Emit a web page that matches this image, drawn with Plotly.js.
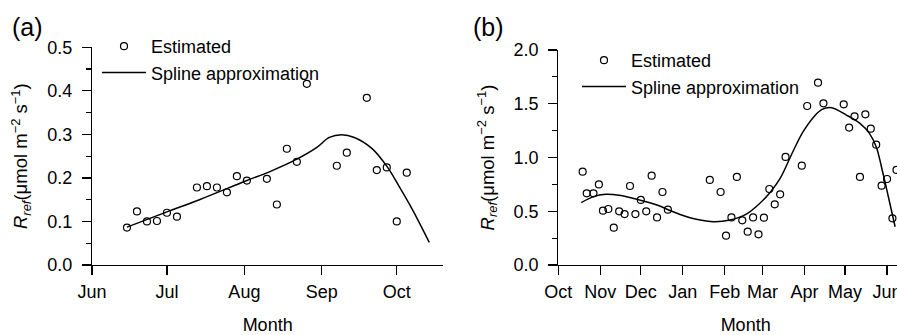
<!DOCTYPE html>
<html>
<head>
<meta charset="utf-8">
<script src="https://cdn.plot.ly/plotly-3.0.1.min.js"></script>
<style>
html, body { margin: 0; padding: 0; overflow: hidden; background: #fff; }
#chart { width: 935px; height: 335px; }
</style>
</head>
<body>
<div id="chart"></div>
<script>
// ---------- Panel (a): Jun–Oct ----------
const aDates = ['2004-06-15','2004-06-19','2004-06-23','2004-06-27','2004-07-01','2004-07-05',
  '2004-07-13','2004-07-17','2004-07-21','2004-07-25','2004-07-29','2004-08-02',
  '2004-08-10','2004-08-14','2004-08-18','2004-08-22','2004-08-26','2004-09-07',
  '2004-09-11','2004-09-19','2004-09-23','2004-09-27','2004-10-01','2004-10-05'];
const aValues = [0.086,0.123,0.100,0.101,0.120,0.111,
  0.178,0.181,0.178,0.167,0.204,0.194,
  0.198,0.139,0.267,0.237,0.416,0.228,
  0.258,0.384,0.218,0.224,0.100,0.212];
const aSplineDates = ['2004-06-15','2004-07-01','2004-07-14','2004-08-02','2004-08-11','2004-08-22',
  '2004-08-30','2004-09-04','2004-09-09','2004-09-14','2004-09-21','2004-09-27',
  '2004-10-02','2004-10-07','2004-10-14'];
const aSplineValues = [0.087,0.122,0.150,0.194,0.214,0.243,
  0.270,0.293,0.299,0.293,0.268,0.227,
  0.180,0.130,0.052];

// ---------- Panel (b): Oct–Jun ----------
const bDates = ['2004-10-19','2004-10-22','2004-10-27','2004-10-31','2004-11-03','2004-11-07',
  '2004-11-11','2004-11-15','2004-11-19','2004-11-23','2004-11-27','2004-12-01',
  '2004-12-05','2004-12-09','2004-12-13','2004-12-17','2004-12-21','2005-01-21',
  '2005-01-29','2005-02-02','2005-02-06','2005-02-10','2005-02-14','2005-02-18',
  '2005-02-22','2005-02-26','2005-03-02','2005-03-06','2005-03-10','2005-03-14',
  '2005-03-18','2005-03-30','2005-04-03','2005-04-11','2005-04-15','2005-04-30',
  '2005-05-04','2005-05-08','2005-05-12','2005-05-16','2005-05-20','2005-05-24',
  '2005-05-28','2005-06-01','2005-06-05','2005-06-08'];
const bValues = [0.868,0.667,0.667,0.750,0.505,0.521,
  0.347,0.499,0.474,0.735,0.474,0.605,
  0.499,0.831,0.443,0.679,0.515,0.791,
  0.679,0.273,0.443,0.819,0.416,0.310,
  0.443,0.285,0.440,0.707,0.564,0.657,
  1.005,0.924,1.479,1.696,1.504,1.495,
  1.278,1.383,0.819,1.402,1.268,1.119,
  0.738,0.800,0.434,0.884];
const bSplineDates = ['2004-10-18','2004-10-27','2004-11-05','2004-11-15','2004-11-30','2004-12-13',
  '2004-12-23','2005-01-04','2005-01-11','2005-01-24','2005-02-05','2005-02-17',
  '2005-02-27','2005-03-07','2005-03-14','2005-03-24','2005-03-31','2005-04-08',
  '2005-04-14','2005-04-21','2005-05-02','2005-05-12','2005-05-19','2005-05-24',
  '2005-05-29','2005-06-02','2005-06-07'];
const bSplineValues = [0.580,0.636,0.657,0.648,0.605,0.558,
  0.505,0.449,0.425,0.403,0.419,0.474,
  0.574,0.682,0.805,1.070,1.240,1.380,
  1.448,1.463,1.395,1.318,1.225,1.100,
  0.853,0.635,0.356];

const legendNames = ['Estimated', 'Spline approximation'];
const panelLabels = ['(a)', '(b)'];
const xTitle = 'Month';
const yTitle = '<i>R</i><sub><i>ref</i></sub>(μmol m<sup>−2</sup> s<sup>−1</sup>)';

const FONT = 'Liberation Sans, Arial, Helvetica, sans-serif';
const W = 935, H = 335;

const markerStyle = {symbol: 'circle-open', size: 7, color: '#000', line: {color: '#000', width: 1.2}};
const lineStyle = {color: '#000', width: 1.5, shape: 'spline', smoothing: 1};

const traces = [
  {x: aDates, y: aValues, type: 'scatter', mode: 'markers', name: legendNames[0],
   marker: markerStyle, xaxis: 'x', yaxis: 'y', legend: 'legend', cliponaxis: false},
  {x: aSplineDates, y: aSplineValues, type: 'scatter', mode: 'lines', name: legendNames[1],
   line: lineStyle, xaxis: 'x', yaxis: 'y', legend: 'legend'},
  {x: bDates, y: bValues, type: 'scatter', mode: 'markers', name: legendNames[0],
   marker: markerStyle, xaxis: 'x2', yaxis: 'y2', legend: 'legend2', cliponaxis: false},
  {x: bSplineDates, y: bSplineValues, type: 'scatter', mode: 'lines', name: legendNames[1],
   line: lineStyle, xaxis: 'x2', yaxis: 'y2', legend: 'legend2'}
];

const axisBase = {
  showline: true, linecolor: '#000', linewidth: 1.2,
  ticks: 'outside', ticklen: 9, tickwidth: 1.2, tickcolor: '#000',
  showgrid: false, zeroline: false, fixedrange: true,
  tickfont: {family: FONT, size: 18, color: '#000'}
};

function xAxis(domain, range, tick0) {
  return Object.assign({}, axisBase, {
    type: 'date', domain: domain, range: range, tick0: tick0, dtick: 'M1', tickformat: '%b',
    ticklabelstandoff: 1,
    title: {text: xTitle, font: {family: FONT, size: 18, color: '#000'}, standoff: 17}
  });
}
function yAxis(domain, range, dtick, minorDtick, anchor) {
  return Object.assign({}, axisBase, {
    domain: domain, range: range, dtick: dtick, tickformat: '.1f', anchor: anchor,
    ticklabelstandoff: 6,
    minor: {dtick: minorDtick, tick0: 0, ticks: 'outside', ticklen: 5, tickwidth: 1.2, tickcolor: '#000', showgrid: false},
    title: {text: yTitle, font: {family: FONT, size: 18.5, color: '#000'}, standoff: 14}
  });
}

const legendBase = {
  xanchor: 'left', yanchor: 'top', xref: 'paper', yref: 'paper',
  bgcolor: 'rgba(0,0,0,0)', borderwidth: 0, itemwidth: 44, tracegroupgap: 0,
  font: {family: FONT, size: 18, color: '#000'}
};

const layout = {
  width: W, height: H,
  margin: {l: 0, r: 0, t: 0, b: 0},
  paper_bgcolor: '#fff', plot_bgcolor: 'rgba(0,0,0,0)',
  font: {family: FONT, size: 18, color: '#000'},
  xaxis: xAxis([92 / W, 443.3 / W], ['2004-06-01', '2004-10-19 15:00'], '2004-06-01'),
  yaxis: yAxis([70 / H, 287.7 / H], [0, 0.5], 0.1, 0.05, 'x'),
  xaxis2: xAxis([558.3 / W, 933 / W], ['2004-10-01', '2005-07-05'], '2004-10-01'),
  yaxis2: yAxis([70 / H, 285 / H], [0, 2], 0.5, 0.25, 'x2'),
  legend: Object.assign({}, legendBase, {x: 97 / W, y: (H - 28) / H}),
  legend2: Object.assign({}, legendBase, {x: 577 / W, y: (H - 42) / H}),
  annotations: [
    {text: panelLabels[0], xref: 'paper', yref: 'paper', x: 10 / W, y: (H - 27) / H,
     xanchor: 'left', yanchor: 'middle', showarrow: false, font: {family: FONT, size: 25, color: '#000'}},
    {text: panelLabels[1], xref: 'paper', yref: 'paper', x: 471 / W, y: (H - 27) / H,
     xanchor: 'left', yanchor: 'middle', showarrow: false, font: {family: FONT, size: 25, color: '#000'}}
  ]
};
layout.xaxis.anchor = 'y';
layout.xaxis2.anchor = 'y2';

Plotly.newPlot('chart', traces, layout, {displayModeBar: false, staticPlot: true});
</script>
</body>
</html>
